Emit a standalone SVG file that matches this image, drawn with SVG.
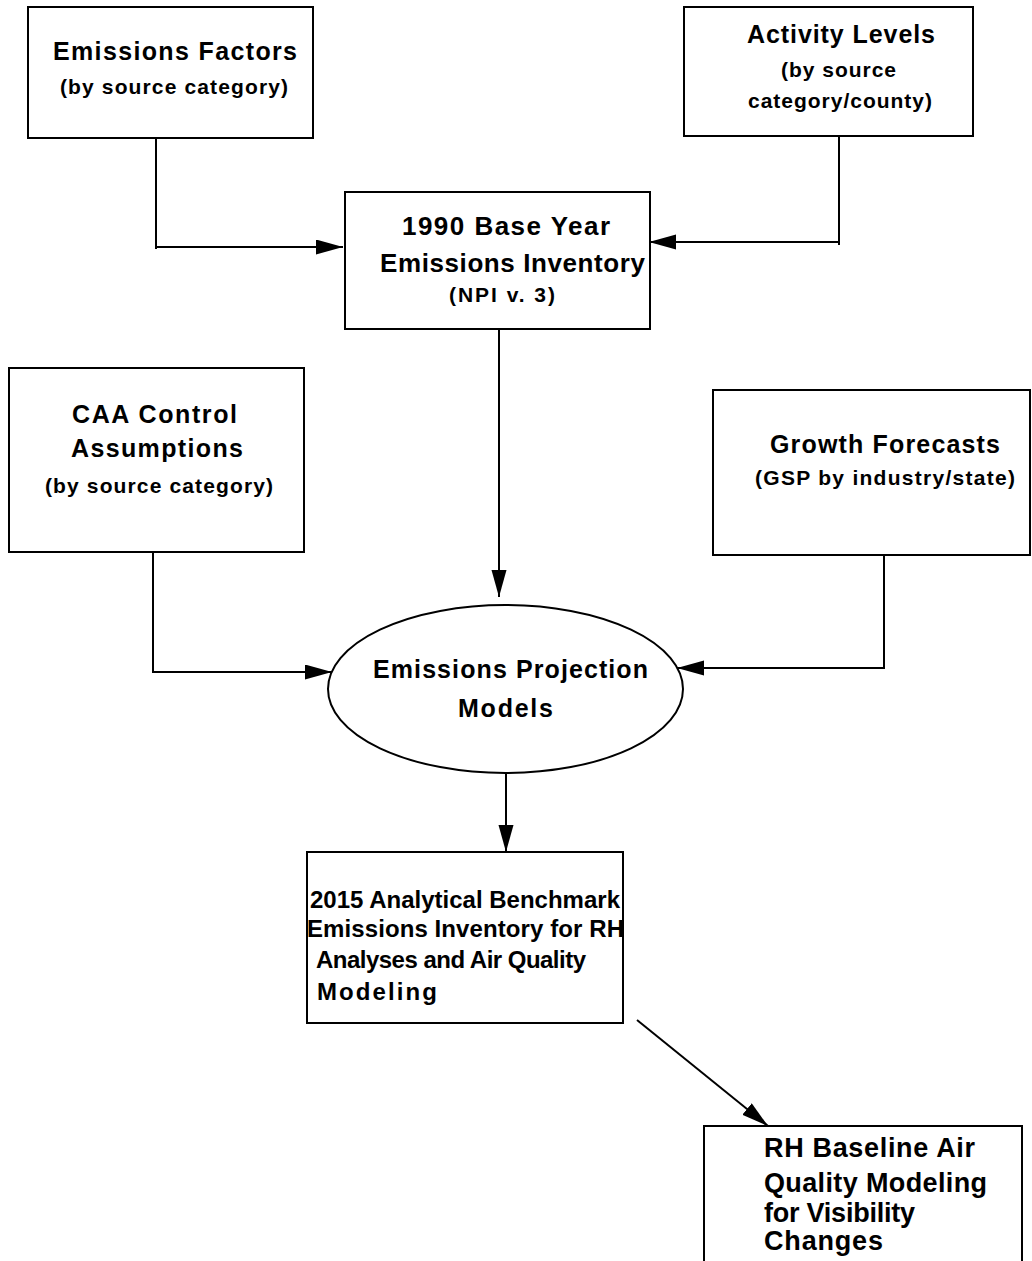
<svg xmlns="http://www.w3.org/2000/svg" width="1032" height="1261" viewBox="0 0 1032 1261">
<style>
.box{fill:#fff;stroke:#000;stroke-width:2}
.ln{fill:none;stroke:#000;stroke-width:2}
text{font-family:"Liberation Sans",Arial,sans-serif;font-weight:bold;fill:#000}
.t{font-size:25px}
.b{font-size:26px}
.s{font-size:21px}
.r{font-size:27px}
.m{font-size:24px}
</style>
<defs>
<marker id="ah" markerUnits="userSpaceOnUse" markerWidth="28" markerHeight="16" refX="27" refY="7.5" orient="auto">
<path d="M0,0 L27,7.5 L0,15 z" fill="#000"/>
</marker>
</defs>
<rect width="1032" height="1261" fill="#fff"/>
<g id="connectors">
<path class="ln" d="M156,138 V249 M156,247 H343" marker-end="url(#ah)"/>
<path class="ln" d="M839,136 V245 M839,242 H649" marker-end="url(#ah)"/>
<path class="ln" d="M499,326 V597" marker-end="url(#ah)"/>
<path class="ln" d="M153,547 V672 H332" marker-end="url(#ah)"/>
<path class="ln" d="M884,555 V668 H677" marker-end="url(#ah)"/>
<path class="ln" d="M506,773 V852" marker-end="url(#ah)"/>
<path class="ln" d="M637,1020 L768,1126" marker-end="url(#ah)"/>
</g>
<g id="emissions-factors">
<rect class="box" x="28" y="7" width="285" height="131"/>
<text class="t" x="53" y="60" textLength="244" lengthAdjust="spacing">Emissions Factors</text>
<text class="s" x="60" y="94" textLength="228" lengthAdjust="spacing">(by source category)</text>
</g>
<g id="activity-levels">
<rect class="box" x="684" y="7" width="289" height="129"/>
<text class="t" x="747" y="43" textLength="188" lengthAdjust="spacing">Activity Levels</text>
<text class="s" x="781" y="77" textLength="115" lengthAdjust="spacing">(by source</text>
<text class="s" x="748" y="108" textLength="184" lengthAdjust="spacing">category/county)</text>
</g>
<g id="base-year-inventory">
<rect class="box" x="345" y="192" width="305" height="137"/>
<text class="b" x="402" y="235" textLength="208" lengthAdjust="spacing">1990 Base Year</text>
<text class="b" x="380" y="272" textLength="265" lengthAdjust="spacing">Emissions Inventory</text>
<text class="s" x="449" y="302" textLength="106" lengthAdjust="spacing">(NPI v. 3)</text>
</g>
<g id="caa-control">
<rect class="box" x="9" y="368" width="295" height="184"/>
<text class="t" x="72" y="423" textLength="165" lengthAdjust="spacing">CAA Control</text>
<text class="t" x="71" y="457" textLength="172" lengthAdjust="spacing">Assumptions</text>
<text class="s" x="45" y="493" textLength="228" lengthAdjust="spacing">(by source category)</text>
</g>
<g id="growth-forecasts">
<rect class="box" x="713" y="390" width="317" height="165"/>
<text class="t" x="770" y="453" textLength="230" lengthAdjust="spacing">Growth Forecasts</text>
<text class="s" x="755" y="485" textLength="260" lengthAdjust="spacing">(GSP by industry/state)</text>
</g>
<g id="projection-models">
<ellipse class="box" cx="505.5" cy="689" rx="177.5" ry="84"/>
<text class="t" x="373" y="678" textLength="275" lengthAdjust="spacing">Emissions Projection</text>
<text class="t" x="458" y="717" textLength="95" lengthAdjust="spacing">Models</text>
</g>
<g id="benchmark-inventory">
<rect class="box" x="307" y="852" width="316" height="171"/>
<text class="m" x="310" y="908" textLength="310" lengthAdjust="spacing">2015 Analytical Benchmark</text>
<text class="m" x="307" y="937" textLength="317" lengthAdjust="spacing">Emissions Inventory for RH</text>
<text class="m" x="316" y="968" textLength="270" lengthAdjust="spacing">Analyses and Air Quality</text>
<text class="m" x="317" y="1000" textLength="120" lengthAdjust="spacing">Modeling</text>
</g>
<g id="rh-baseline">
<path class="ln" d="M704,1270 V1126 H1022 V1270"/>
<text class="r" x="764" y="1157" textLength="211" lengthAdjust="spacing">RH Baseline Air</text>
<text class="r" x="764" y="1192" textLength="223" lengthAdjust="spacing">Quality Modeling</text>
<text class="r" x="764" y="1222" textLength="151" lengthAdjust="spacing">for Visibility</text>
<text class="r" x="764" y="1250" textLength="119" lengthAdjust="spacing">Changes</text>
</g>
</svg>
